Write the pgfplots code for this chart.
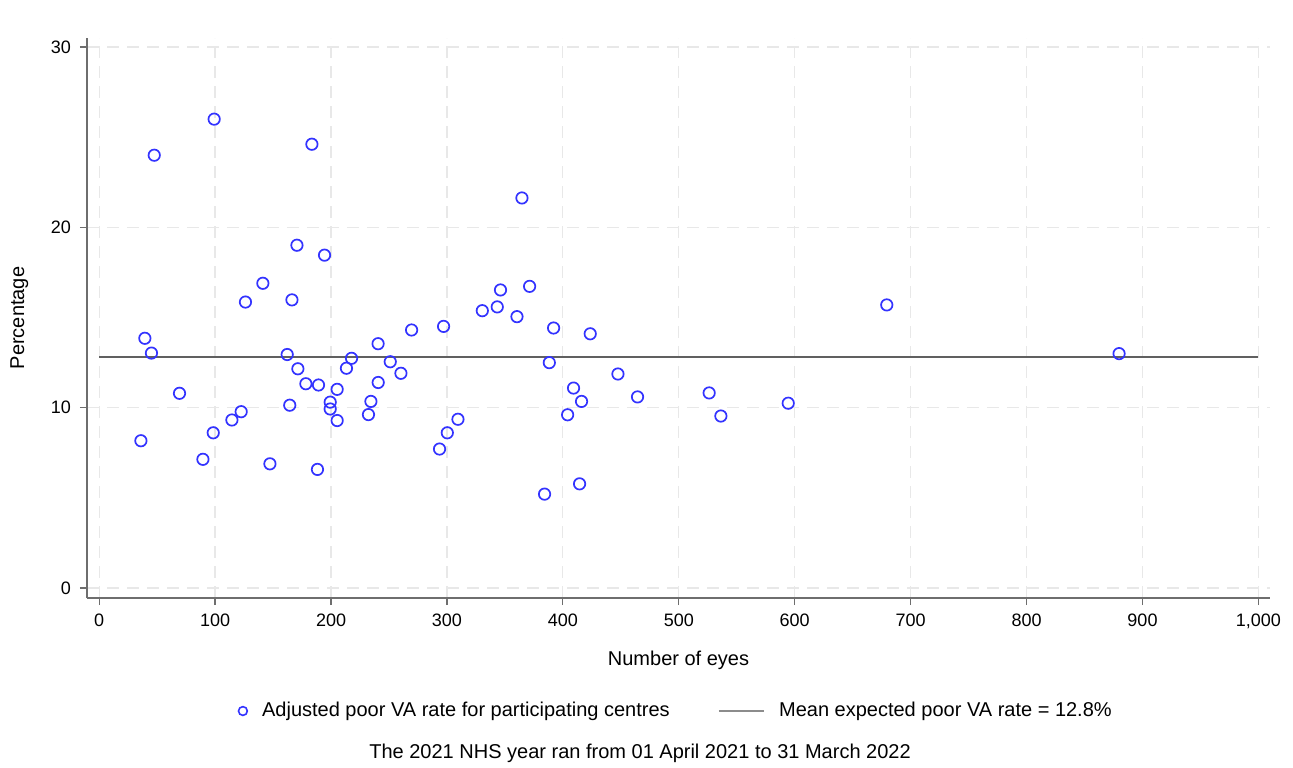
\documentclass[border=0pt]{standalone}
\usepackage{fontspec}
\setmainfont{Liberation Sans}
\usepackage{pgfplots}
\pgfplotsset{compat=1.18}
\usetikzlibrary{calc}

\definecolor{ptblue}{RGB}{51,51,255}
\definecolor{meangray}{RGB}{96,96,96}
\definecolor{leggray}{RGB}{140,140,140}
\definecolor{axisgray}{RGB}{110,110,110}
\definecolor{gridgray}{RGB}{232,232,232}

\begin{document}
\begin{tikzpicture}
\begin{axis}[
  scale only axis,
  width=591.5pt, height=280pt,
  xmin=-10.5, xmax=1010, ymin=-0.55, ymax=30.5,
  axis x line*=bottom, axis y line*=left,
  axis line style={axisgray, line width=0.6pt, -},
  xtick={0,100,...,1000}, ytick={0,10,20,30},
  tick align=outside, major tick length=3.5pt,
  tick style={axisgray, line width=0.6pt},
  xtick pos=bottom, ytick pos=left,
  grid=major,
  major grid style={gridgray, dashed, dash pattern=on 6pt off 4pt, line width=0.6pt},
  /pgf/number format/assume math mode=true,
  /pgf/number format/1000 sep={,},
  tick label style={font=\fontsize{9}{10}\selectfont},
  xticklabel style={yshift=-1pt},
  yticklabel style={xshift=-1pt},
  label style={font=\fontsize{10}{11}\selectfont},
  xlabel={Number of eyes},
  ylabel={Percentage},
  xlabel style={yshift=-4pt},
  ylabel style={yshift=4.5pt},
  legend columns=2,
  legend style={at={(0.4985,-0.2018)}, anchor=center, draw=none,
    font=\fontsize{10}{11}\selectfont,
    /tikz/every odd column/.append style={column sep=5pt},
    /tikz/every even column/.append style={column sep=22pt}},
  legend cell align=left,
]
\addplot[only marks, mark=o, mark size=2.85pt, ptblue, line width=0.85pt,
  legend image code/.code={\draw[ptblue, line width=0.8pt] (0,0) circle (2.2pt);}]
  coordinates {
  (36.0,8.17) (39.4,13.85) (45.1,13.03) (47.5,24.0) (69.3,10.80)
  (89.5,7.14) (99.2,26.0) (98.4,8.61) (114.5,9.32) (122.5,9.78)
  (126.2,15.86) (141.2,16.90) (147.3,6.89) (162.2,12.95) (164.4,10.14)
  (166.3,15.98) (170.6,19.01) (171.4,12.16) (178.3,11.33) (183.5,24.61)
  (188.3,6.58) (189.2,11.26) (194.4,18.46) (199.3,10.31) (199.3,9.93)
  (205.3,11.02) (205.3,9.29) (213.3,12.19) (217.7,12.74) (232.3,9.62)
  (234.4,10.35) (240.6,13.55) (240.7,11.40) (251.1,12.55) (260.3,11.91)
  (269.5,14.31) (293.6,7.71) (297.1,14.51) (300.3,8.61) (309.5,9.36)
  (330.5,15.38) (343.4,15.59) (346.2,16.53) (360.4,15.05) (364.7,21.63)
  (371.3,16.73) (384.2,5.21) (388.3,12.50) (392.0,14.42) (404.1,9.61)
  (409.2,11.09) (414.4,5.78) (416.1,10.35) (423.6,14.10) (447.5,11.87)
  (464.4,10.60) (526.2,10.82) (536.3,9.54) (594.4,10.25) (679.4,15.70)
  (879.8,13.00)
  };
\addlegendentry{Adjusted poor VA rate for participating centres}
\addplot[meangray, line width=1pt,
  legend image code/.code={\draw[leggray, line width=1.2pt] (0,0) -- (22.5pt,0);}]
  coordinates {(0,12.8) (1000,12.8)};
\addlegendentry{Mean expected poor VA rate = 12.8\%}
\end{axis}
\node[font=\fontsize{10}{11}\selectfont, anchor=center]
  at ($(current axis.south west)!0.4675!(current axis.south east) + (0,-77.5pt)$)
  {The 2021 NHS year ran from 01 April 2021 to 31 March 2022};
\pgfresetboundingbox
\path (current axis.south west) ++(-43.5pt,-84.5pt) coordinate (bl);
\path (current axis.north east) ++(11.5pt,19pt) coordinate (tr);
\path[use as bounding box] (bl) rectangle (tr);
\end{tikzpicture}
\end{document}
